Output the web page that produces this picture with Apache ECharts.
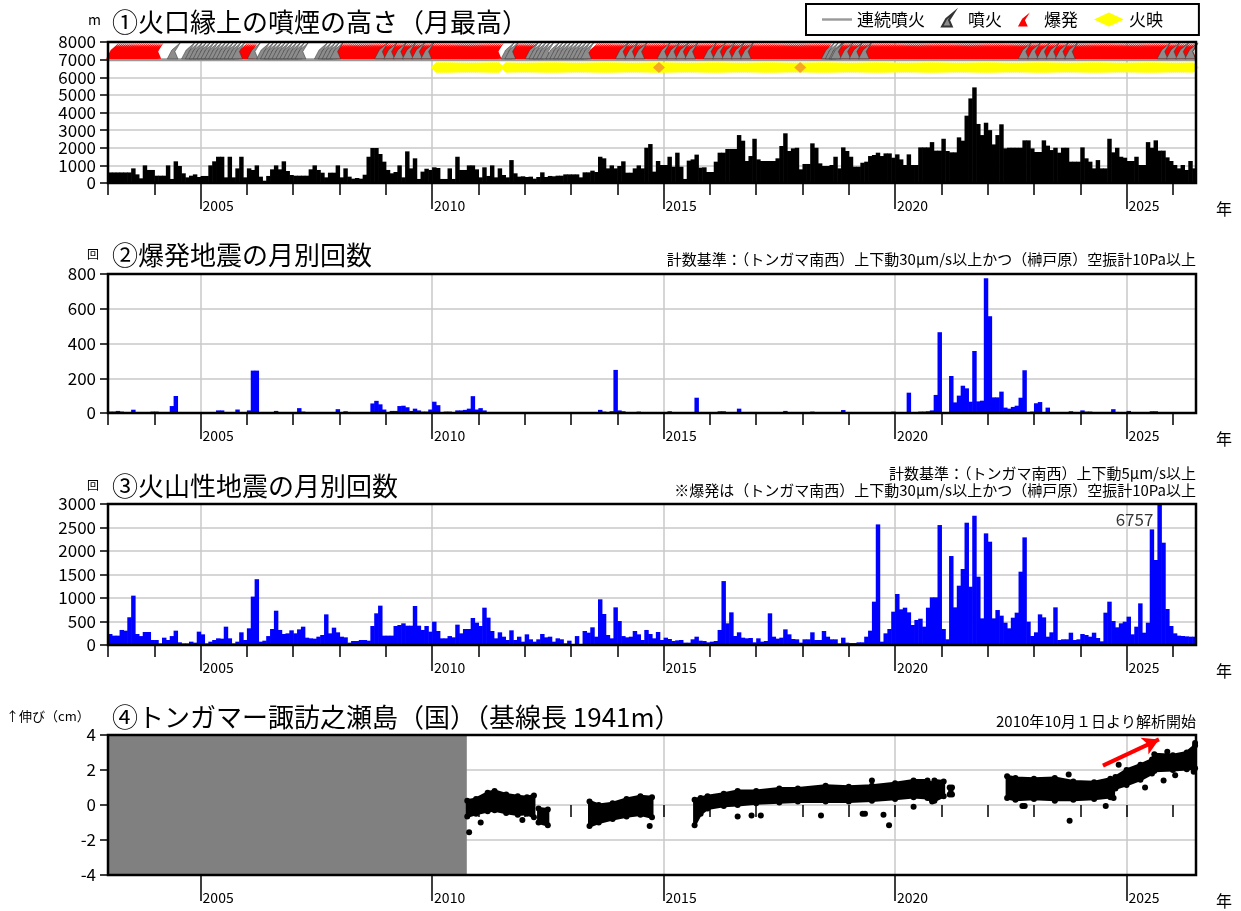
<!DOCTYPE html>
<html><head><meta charset="utf-8">
<script src="https://cdn.jsdelivr.net/npm/echarts@6/dist/echarts.min.js"></script>
<style>html,body{margin:0;padding:0;background:#fff}#c{width:1241px;height:911px}</style>
</head><body><div id="c"></div>
<script>
// ---------------- data ----------------
const startYear = 2003;           // first month = Jan 2003
const xMin = 2003, xMax = 2026.5;
const majorYears = [2005, 2010, 2015, 2020, 2025];
const minorYears = [2003,2004,2005,2006,2007,2008,2009,2010,2011,2012,2013,2014,2015,2016,2017,2018,2019,2020,2021,2022,2023,2024,2025,2026];

// ① monthly max plume height above crater rim (m)
const plumeHeight = [
600,600,600,600,600,600,830,490,265,1000,740,740,
415,415,415,1000,230,1230,965,550,320,415,490,340,
400,400,1000,1230,1490,1490,320,1490,320,830,1490,320,
830,740,1000,360,130,400,775,1000,775,1230,680,455,
415,415,415,415,775,1000,740,585,320,585,585,1000,
320,830,360,245,285,245,470,1490,1985,1985,1645,1210,
740,550,625,1000,320,1795,830,1400,230,645,810,740,
890,850,230,230,830,230,1490,740,740,1000,1000,775,
320,890,400,1000,320,830,455,320,1300,550,360,380,
340,360,245,340,605,340,400,380,415,415,490,490,
490,490,320,605,605,700,625,1490,1400,830,1000,830,
965,1230,585,585,830,1000,830,2000,2210,645,1250,1020,
1020,1490,925,1720,925,230,1270,1340,1610,870,890,625,
625,1210,1720,1720,1930,1930,1930,2720,2400,1250,1530,2510,
1340,1250,1250,1250,1250,1400,2100,2820,1815,1965,2000,775,
1080,1080,2250,2000,1115,965,965,1020,1490,830,2020,1815,
1490,925,925,1150,1210,1530,1590,1720,1530,1680,1680,1435,
1625,1340,1020,1625,1020,1020,2020,2020,2020,2320,1835,1835,
2510,1815,1740,1740,2590,2400,3820,4800,5425,3350,2720,3420,
3000,2190,2720,3330,1965,2000,2000,2000,2000,2420,2420,1965,
1760,1760,2420,2120,1870,2000,1720,2000,2000,1210,1210,1210,
2020,1400,1210,830,1300,830,830,2510,1740,2000,1490,1435,
1250,1250,1490,1020,1020,2320,2000,2420,1835,1835,1455,1250,
1020,830,1020,740,1250,830
];

// ② monthly number of explosion earthquakes
const explosionQuakes = [
8,8,12,8,5,3,19,3,3,3,5,8,
8,3,2,5,40,98,3,2,3,2,2,2,
3,3,2,3,15,15,5,3,3,20,3,3,
15,244,244,3,3,3,3,12,3,3,3,3,
3,28,8,3,3,3,3,3,3,3,3,22,
3,10,3,3,3,3,3,3,55,70,50,20,
5,12,12,40,42,33,12,25,15,8,8,20,
65,45,5,8,8,3,15,15,18,25,97,20,
28,15,3,3,3,3,3,3,3,3,3,3,
3,3,3,3,3,3,3,3,3,3,3,3,
3,3,3,3,3,3,3,18,8,3,10,248,
15,10,3,3,3,8,3,3,3,3,3,3,
3,10,3,3,3,3,3,3,88,3,3,3,
3,3,10,10,3,3,5,25,5,3,6,6,
3,3,3,3,3,3,3,12,3,3,3,3,
3,3,8,5,3,3,3,3,3,3,17,3,
3,3,3,3,3,3,3,3,3,3,3,8,
3,3,3,117,5,3,8,8,10,15,104,465,
3,3,213,61,100,157,142,65,357,67,71,776,
557,90,90,123,31,25,35,42,88,246,5,8,
56,63,5,31,5,5,3,3,3,10,3,3,
15,8,8,3,3,3,3,3,22,6,3,3,
12,3,3,3,3,3,10,10,3,2,2,2,
2,2,2,2,2,2
];

// ③ monthly number of volcanic earthquakes
const volcanicQuakes = [
234,199,199,320,305,590,1050,234,190,277,277,106,
106,35,156,106,190,305,57,35,35,71,50,284,
227,35,71,106,142,135,390,142,35,71,270,106,
355,1030,1400,71,92,190,340,730,320,234,248,312,
248,333,390,156,142,135,177,213,652,248,369,270,
177,163,50,85,85,106,106,92,404,674,837,199,
199,199,404,425,461,411,411,830,411,320,404,284,
496,298,142,142,190,163,433,248,340,340,574,475,
404,794,582,298,142,270,177,106,312,106,177,71,
227,121,71,121,234,163,177,71,142,121,35,92,
21,190,21,298,262,376,177,972,660,213,142,801,
510,190,163,177,298,227,106,320,234,142,277,106,
156,128,85,99,106,50,50,121,177,92,85,57,
71,85,320,1360,461,695,191,270,156,142,149,57,
142,71,85,674,177,135,156,333,227,128,121,50,
121,121,270,106,106,298,177,121,121,35,156,50,
43,43,57,57,177,305,922,2566,71,248,340,709,
1085,759,794,695,425,532,560,390,794,1014,1014,2552,
340,121,1893,801,1262,1617,2602,1240,2751,1453,567,2375,
2198,567,744,624,475,355,581,688,1560,2290,496,191,
270,652,588,177,270,801,106,121,121,262,106,121,
234,213,177,262,149,78,688,922,510,376,461,496,
603,227,390,886,262,475,2460,1808,6757,2177,766,404,
248,199,191,184,177,177
];

// ① activity periods (decimal years)
const explosionPeriods = [[2003.1,2004.08],[2005.88,2006.12],[2007.95,2011.42],[2011.75,2012.15],[2013.45,2018.5],[2018.75,2026.45]];
const eruptionPeriods = [[2004.42,2004.5],[2004.73,2005.85],[2006.15,2006.17],[2006.35,2007.2],[2007.6,2007.95],[2011.63,2011.75],[2012.15,2012.5],[2012.6,2013.4],[2018.55,2018.75]];
const eruptionInExplosion = [[2008.9,2009.9],[2014.1,2014.5],[2015.0,2015.7],[2016.0,2016.8],[2018.75,2019.5],[2022.8,2023.8],[2025.8,2026.45]];
const incandescencePeriods = [[2010.1,2011.45],[2011.6,2026.45]];
const strongIncandescence = [2014.9, 2017.95];

// ④ GNSS baseline (cm): segments of [year, lower edge, upper edge]
const gnssStart = 2010.75;
const gnssSegments = [
 [[2010.76,-0.65,0.25],[2010.95,-0.5,0.35],[2011.2,-0.35,0.7],[2011.35,-0.3,0.8],[2011.6,-0.45,0.6],[2011.85,-0.55,0.5],[2012.05,-0.5,0.45],[2012.2,-0.7,0.55]],
 [[2012.3,-1.0,-0.2],[2012.5,-1.15,-0.25]],
 [[2013.4,-1.2,0.2],[2013.6,-1.0,0.0],[2013.9,-0.8,0.1],[2014.2,-0.65,0.35],[2014.5,-0.55,0.5],[2014.75,-0.7,0.45]],
 [[2015.67,-1.15,0.3],[2015.8,-0.5,0.4],[2015.95,-0.2,0.5],[2016.3,-0.05,0.65],[2016.6,0.0,0.8],[2017.0,0.1,0.8],[2017.5,0.15,0.95],[2017.9,0.2,0.95],[2018.5,0.2,1.1],[2019.0,0.2,1.05],[2019.5,0.25,1.1],[2020.0,0.35,1.25],[2020.4,0.45,1.4],[2020.7,0.4,1.4],[2020.8,0.2,1.2]],
 [[2020.85,0.25,1.4],[2021.05,0.5,1.35]],
 [[2021.18,0.6,1.0],[2021.23,0.6,1.0]],
 [[2022.42,0.4,1.65],[2022.6,0.3,1.55],[2023.0,0.35,1.5],[2023.45,0.3,1.55],[2023.85,0.3,1.35],[2024.3,0.35,1.3],[2024.65,0.45,1.5],[2024.72,0.4,1.45]],
 [[2024.76,0.95,1.6],[2025.0,1.15,2.0],[2025.3,1.45,2.3],[2025.55,1.8,2.6],[2025.6,1.95,2.9],[2026.0,2.0,2.85],[2026.3,2.05,3.0],[2026.48,2.1,3.4]]
];
const gnssOutliers = [[2010.8,-1.55],[2011.05,-1.0],[2011.95,-0.85],[2014.7,-1.2],[2016.6,-0.65],[2016.9,-0.6],[2017.1,-0.6],[2018.4,-0.6],[2019.3,-0.5],[2019.35,-0.5],[2019.75,-0.55],[2019.87,-1.15],[2019.5,1.4],[2020.4,-0.1],[2022.75,-0.05],[2022.8,-0.05],[2023.45,0.25],[2023.75,1.75],[2023.77,-0.9],[2024.55,-0.05],[2024.83,2.3],[2025.4,1.0],[2025.88,3.05],[2025.8,1.4],[2026.05,1.7],[2026.45,1.9],[2026.48,3.55]];
const trendArrow = [[2024.49,2.25],[2025.7,3.75]];

// ---------------- helpers ----------------
const FONT = "'Noto Sans CJK JP', sans-serif";
const monthly = arr => arr.map((v,k)=>[startYear + k/12, v]);
const expand = (periods, step, y) => {
  const out = [];
  periods.forEach(([a,b]) => { for (let t=a; t<=b+1e-9; t+=step) out.push([+t.toFixed(4), y]); });
  return out;
};
const volcano = 'path://M0,20 L6,9 L17,0 L10,11 L14,20 Z';
const lineIcon = 'path://M0,0 L30,0 L30,2.4 L0,2.4 Z';

const grids = [
  {top:42, height:141}, {top:274, height:139}, {top:504, height:141}, {top:735, height:140}
];
const yDefs = [
  {min:0,max:8000,interval:1000},{min:0,max:800,interval:200},{min:0,max:3000,interval:500},{min:-4,max:4,interval:2}
];

const xAxes = [], yAxes = [];
grids.forEach((g,i) => {
  xAxes.push({type:'value', gridIndex:i, min:xMin, max:xMax, position:'bottom',
    axisLine:{show:false},
    axisTick:{show:true, customValues:minorYears, length:12, lineStyle:{color:'#000', width:1.5}},
    axisLabel:{show:false}, splitLine:{show:false}});
  xAxes.push({type:'value', gridIndex:i, min:xMin, max:xMax, position:'bottom',
    axisLine:{show:false},
    axisTick:{show:true, customValues:majorYears, length:26, lineStyle:{color:'#000', width:1.5}},
    axisLabel:{show:true, customValues:majorYears, align:'left', margin:16, padding:[0,0,0,2],
      fontSize:14, color:'#000', fontFamily:FONT, formatter:v=>String(v)},
    splitLine:{show:true, lineStyle:{color:'#c8c8c8', width:1.5}},
    name:'年', nameLocation:'end', nameGap:20,
    nameTextStyle:{fontSize:16, color:'#000', fontFamily:FONT, verticalAlign:'top', padding:[18,0,0,0]}});
  yAxes.push(Object.assign({type:'value', gridIndex:i,
    axisLine:{show:false},
    axisTick:{show:true, length:8, lineStyle:{color:'#000', width:1.5}},
    axisLabel:{fontSize:17, color:'#000', fontFamily:FONT, margin:12, formatter:v=>String(v)},
    splitLine:{show:true, lineStyle:{color:'#c8c8c8', width:1.5}}}, yDefs[i]));
});

function barRender(color, yTop) {
  return function(params, api) {
    const t0 = api.value(0), v = Math.min(api.value(1), yTop);
    const a = api.coord([t0, 0]), b = api.coord([t0 + 1/12, v]);
    return {type:'rect', shape:{x:a[0], y:b[1], width:b[0]-a[0]+0.6, height:a[1]-b[1]},
      style:{fill:color}};
  };
}

const maxIdx = volcanicQuakes.indexOf(Math.max(...volcanicQuakes));
const gnssEdgePts = [];
gnssSegments.forEach(s => s.forEach(r => { gnssEdgePts.push([r[0], r[1]]); gnssEdgePts.push([r[0], r[2]]); }));

const series = [
  // ① plume bars
  {type:'custom', name:'噴煙', xAxisIndex:1, yAxisIndex:0, clip:true, encode:{x:0,y:1},
   data: monthly(plumeHeight), renderItem: barRender('#000', 8000), z:2},
  {type:'line', name:'連続噴火', xAxisIndex:1, yAxisIndex:0, symbol:'none', showSymbol:false,
   data:[[xMin,7000],[xMax,7000]], lineStyle:{color:'#999', width:3}, itemStyle:{color:'#999'}, z:3},
  {type:'scatter', name:'爆発', xAxisIndex:1, yAxisIndex:0, symbol:volcano, symbolSize:[13,16],
   data: expand(explosionPeriods, 1/24, 7500), itemStyle:{color:'#ff0000', opacity:1}, z:4},
  {type:'scatter', name:'噴火', xAxisIndex:1, yAxisIndex:0, symbol:volcano, symbolSize:[13,16],
   data: expand(eruptionPeriods, 1/12, 7500).concat(expand(eruptionInExplosion, 1/5, 7500)),
   itemStyle:{color:'#8c8c8c', borderColor:'#333', borderWidth:0.5, opacity:1}, z:5},
  {type:'scatter', name:'火映', xAxisIndex:1, yAxisIndex:0, symbol:'diamond', symbolSize:[12,11],
   data: expand(incandescencePeriods, 1/24, 6550), itemStyle:{color:'#ffff00', opacity:1}, z:4},
  {type:'scatter', name:'火映強', xAxisIndex:1, yAxisIndex:0, symbol:'diamond', symbolSize:[12,11],
   data: strongIncandescence.map(t=>[t,6550]), itemStyle:{color:'#f5a623', opacity:1}, z:5},
  // ② explosion quakes
  {type:'custom', name:'爆発地震', xAxisIndex:3, yAxisIndex:1, clip:true, encode:{x:0,y:1},
   data: monthly(explosionQuakes), renderItem: barRender('#0000ff', 800), z:2},
  // ③ volcanic quakes
  {type:'custom', name:'火山性地震', xAxisIndex:5, yAxisIndex:2, clip:true, encode:{x:0,y:1},
   data: monthly(volcanicQuakes), renderItem: barRender('#0000ff', 3000), z:2},
  {type:'scatter', name:'最大値', xAxisIndex:5, yAxisIndex:2, symbolSize:0,
   data:[[startYear + maxIdx/12, 3000*0.887]],
   label:{show:true, position:'left', distance:4, formatter:()=>String(volcanicQuakes[maxIdx]),
     fontSize:17, color:'#000', fontFamily:FONT}, z:6},
  // ④ GNSS
  {type:'custom', name:'基線帯', xAxisIndex:7, yAxisIndex:3, clip:true, encode:{x:0,y:1},
   data: gnssSegments.map((s,i)=>[s[0][0], s[0][1], i]),
   renderItem:(params, api) => {
     const seg = gnssSegments[api.value(2)];
     const up = seg.map(r => api.coord([r[0], r[2]]));
     const lo = seg.map(r => api.coord([r[0], r[1]])).reverse();
     return {type:'polygon', shape:{points: up.concat(lo)},
       style:{fill:'#000', stroke:'#000', lineWidth:3, lineJoin:'round'}};
   }, z:3},
  {type:'scatter', name:'基線長', xAxisIndex:7, yAxisIndex:3, symbol:'circle', symbolSize:6,
   data: gnssEdgePts.concat(gnssOutliers), itemStyle:{color:'#000', opacity:1}, z:4,
   markArea:{silent:true, itemStyle:{color:'#808080', opacity:1},
     data:[[{coord:[xMin,-4]},{coord:[gnssStart,4]}]]},
   markLine:{silent:true, symbol:['none','arrow'], symbolSize:[14,16], label:{show:false},
     lineStyle:{color:'#ff0000', width:4, type:'solid'},
     data:[[{coord:trendArrow[0]},{coord:trendArrow[1]}]]}}
];

const T = (text, pos, size, extra) => Object.assign({text, padding:0, itemGap:0,
  textStyle:{fontSize:size, fontWeight:'normal', color:'#000', fontFamily:FONT}}, pos, extra||{});

const option = {
  animation:false,
  backgroundColor:'#fff',
  textStyle:{fontFamily:FONT},
  title:[
    T('①火口縁上の噴煙の高さ（月最高）', {left:112, top:9}, 26),
    T('m', {left:88, top:13}, 14),
    T('②爆発地震の月別回数', {left:112, top:242}, 26),
    T('回', {left:87, top:248}, 12),
    T('計数基準：（トンガマ南西）上下動30μm/s以上かつ（榊戸原）空振計10Pa以上', {right:45, top:252}, 15),
    T('③火山性地震の月別回数', {left:112, top:473}, 26),
    T('回', {left:87, top:479}, 12),
    T('計数基準：（トンガマ南西）上下動5μm/s以上', {right:45, top:466}, 15),
    T('※爆発は（トンガマ南西）上下動30μm/s以上かつ（榊戸原）空振計10Pa以上', {right:45, top:483}, 15),
    T('④トンガマー諏訪之瀬島（国）（基線長 1941m）', {left:112, top:704}, 26),
    T('↑伸び（cm）', {left:6, top:710}, 13),
    T('2010年10月１日より解析開始', {right:45, top:714}, 15)
  ],
  legend:{left:806, top:4, orient:'horizontal', selectedMode:false,
    data:[{name:'連続噴火', icon:lineIcon},{name:'噴火'},{name:'爆発'},{name:'火映', icon:'diamond'}],
    itemWidth:30, itemHeight:14, itemGap:16, padding:[7,36,7,16],
    borderColor:'#000', borderWidth:2, borderRadius:0,
    textStyle:{fontSize:17, color:'#000', fontFamily:FONT}},
  grid: grids.map(g => ({left:108, right:45, top:g.top, height:g.height, show:true,
    borderColor:'#000', borderWidth:2.5, backgroundColor:'transparent', z:10,
    containLabel:false, outerBoundsMode:'none'})),
  xAxis: xAxes,
  yAxis: yAxes,
  series
};
const chart = echarts.init(document.getElementById('c'), null, {renderer:'canvas'});
chart.setOption(option);
</script>
</body></html>
